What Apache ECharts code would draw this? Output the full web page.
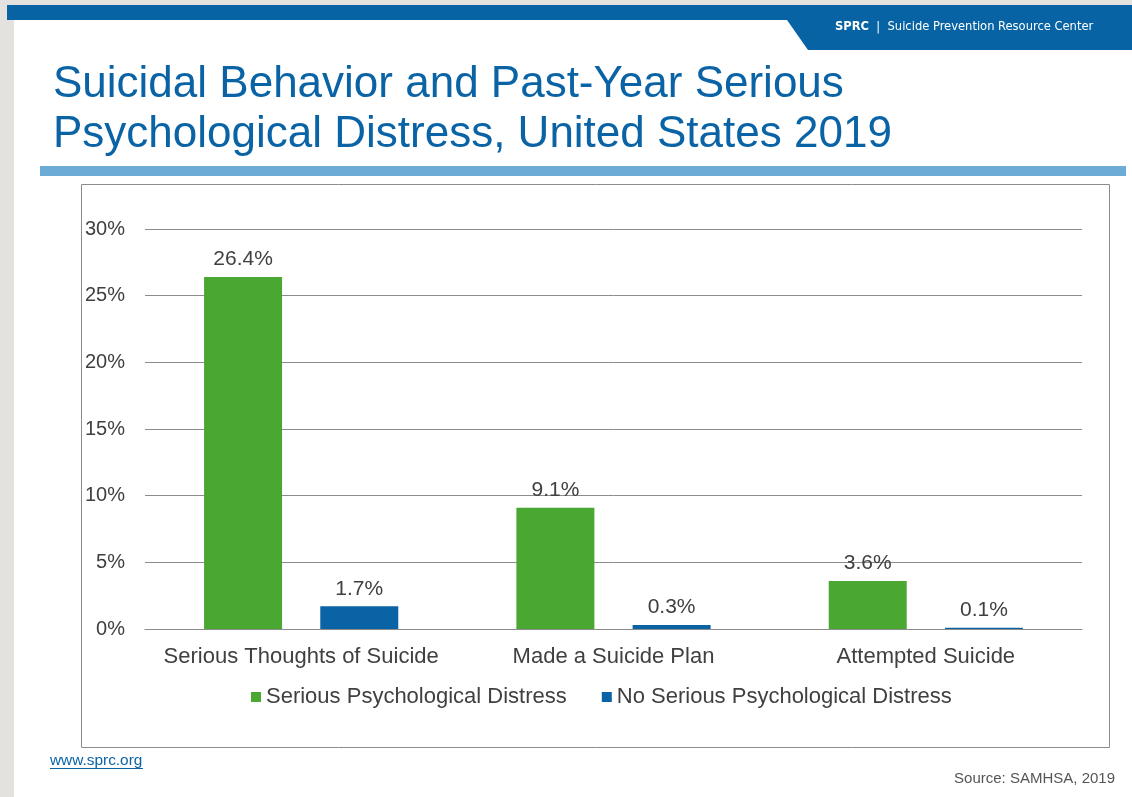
<!DOCTYPE html>
<html>
<head>
<meta charset="utf-8">
<script src="https://cdn.jsdelivr.net/npm/echarts@6/dist/echarts.min.js"></script>
<style>
  html, body { margin: 0; padding: 0; background: #ffffff; }
  #chart { width: 1132px; height: 797px; }
</style>
</head>
<body>
<div id="chart"></div>
<script>
// Survey results (percent of adults), NSDUH 2019
const categories = ['Serious Thoughts of Suicide', 'Made a Suicide Plan', 'Attempted Suicide'];
const seriesNames = ['Serious Psychological Distress', 'No Serious Psychological Distress'];
const withDistress = [26.4, 9.1, 3.6];
const withoutDistress = [1.7, 0.3, 0.1];
const yTicks = [0, 5, 10, 15, 20, 25, 30];

const GREEN = '#4aa832';
const BLUE = '#0963a5';
const TXT = '#404040';
const FONT = '"Liberation Sans", Arial, sans-serif';

const chart = echarts.init(document.getElementById('chart'), null, { renderer: 'canvas' });

const labelCfg = {
  show: true,
  position: 'top',
  distance: 7,
  color: TXT,
  fontSize: 21,
  fontFamily: FONT,
  formatter: p => p.value.toFixed(1) + '%'
};

chart.setOption({
  animation: false,
  backgroundColor: '#ffffff',
  title: {
    text: 'Suicidal Behavior and Past-Year Serious\nPsychological Distress, United States 2019',
    left: 48,
    top: 55,
    textStyle: {
      color: '#0a63a5',
      fontSize: 44,
      fontWeight: 'normal',
      fontFamily: FONT,
      lineHeight: 50
    }
  },
  graphic: [
    // grey page margins
    { type: 'rect', shape: { x: 0, y: 0, width: 14, height: 797 }, style: { fill: '#e4e2de' }, silent: true },
    { type: 'rect', shape: { x: 0, y: 0, width: 1132, height: 5 }, style: { fill: '#e4e2de' }, silent: true },
    // header band with tab
    { type: 'polygon', shape: { points: [[7, 5], [1132, 5], [1132, 50], [808, 50], [787, 20], [7, 20]] }, style: { fill: '#0763a3' }, silent: true },
    {
      type: 'text', x: 835, y: 27,
      style: {
        text: '{b|SPRC}  |  Suicide Prevention Resource Center',
        fill: '#ffffff', fontSize: 12.8, verticalAlign: 'middle',
        fontFamily: '"DejaVu Sans Condensed", "Liberation Sans Narrow", sans-serif',
        rich: { b: { fontWeight: 'bold', fill: '#ffffff', fontSize: 12.8, fontFamily: '"DejaVu Sans Condensed", sans-serif' } }
      },
      silent: true
    },
    // light blue rule under the title
    { type: 'rect', shape: { x: 40, y: 166, width: 1086, height: 10 }, style: { fill: '#6dabd7' }, silent: true },
    // chart frame
    { type: 'rect', shape: { x: 81.5, y: 184.5, width: 1028, height: 563 }, style: { fill: 'none', stroke: '#8c8c8c', lineWidth: 1 }, silent: true, z: -1 },
    // footer
    {
      type: 'text', x: 50, y: 761,
      style: { text: 'www.sprc.org', fill: '#0a63a5', fontSize: 15.4, verticalAlign: 'middle', fontFamily: '"Liberation Sans Narrow", "Liberation Sans", sans-serif' },
      silent: true
    },
    { type: 'rect', shape: { x: 50, y: 768, width: 93, height: 1 }, style: { fill: '#0a63a5' }, silent: true },
    {
      type: 'text', x: 1115, y: 779,
      style: { text: 'Source: SAMHSA, 2019', fill: '#555555', fontSize: 15, align: 'right', verticalAlign: 'middle', fontFamily: '"Liberation Sans Narrow", "Liberation Sans", sans-serif' },
      silent: true
    }
  ],
  legend: {
    data: seriesNames,
    left: 246,
    top: 681,
    itemWidth: 10,
    itemHeight: 10,
    itemGap: 35,
    icon: 'rect',
    textStyle: { color: TXT, fontSize: 22, fontFamily: FONT, padding: [0, 0, 0, 0] }
  },
  grid: { left: 145, right: 50, top: 229, bottom: 168, containLabel: false },
  xAxis: {
    type: 'category',
    data: categories,
    axisLine: { show: true, lineStyle: { color: '#8c8c8c', width: 1 } },
    axisTick: { show: false },
    axisLabel: { color: TXT, fontSize: 22, fontFamily: FONT, margin: 17, interval: 0, hideOverlap: false }
  },
  yAxis: {
    type: 'value',
    min: yTicks[0],
    max: yTicks[yTicks.length - 1],
    interval: 5,
    axisLine: { show: false },
    axisTick: { show: false },
    splitLine: { lineStyle: { color: '#8c8c8c', width: 1 } },
    axisLabel: {
      color: TXT, fontSize: 20, fontFamily: FONT, margin: 20,
      formatter: v => v + '%'
    }
  },
  series: [
    {
      name: seriesNames[0], type: 'bar', data: withDistress,
      barWidth: 78, barGap: '49%',
      itemStyle: { color: GREEN },
      label: labelCfg
    },
    {
      name: seriesNames[1], type: 'bar', data: withoutDistress,
      barWidth: 78,
      itemStyle: { color: BLUE },
      label: labelCfg
    }
  ]
});
</script>
</body>
</html>
